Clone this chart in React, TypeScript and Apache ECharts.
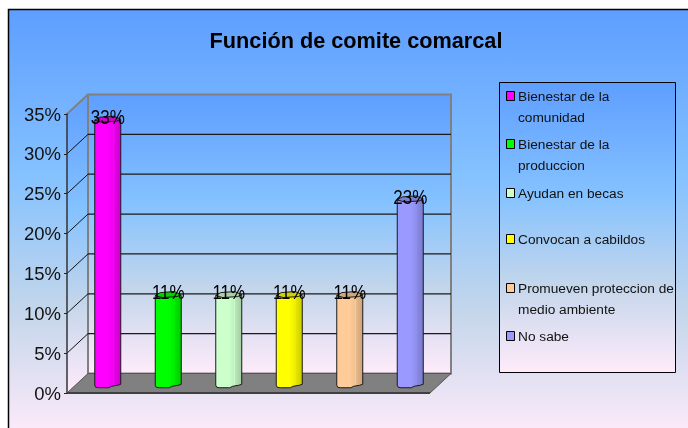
import React, { useEffect, useRef } from "react";
import * as echarts from "echarts";

const title = "Función de comite comarcal";
const categories = [
  "Bienestar de la comunidad",
  "Bienestar de la produccion",
  "Ayudan en becas",
  "Convocan a cabildos",
  "Promueven proteccion de medio ambiente",
  "No sabe",
];
const legendLines = [
  ["Bienestar de la", "comunidad"],
  ["Bienestar de la", "produccion"],
  ["Ayudan en becas"],
  ["Convocan a cabildos"],
  ["Promueven proteccion de", "medio ambiente"],
  ["No sabe"],
];
const values = [33, 11, 11, 11, 11, 23];
const colors = ["#ff00ff", "#00ff00", "#ccffcc", "#ffff00", "#ffcc99", "#9999ff"];
const darkColors = ["#cc00cc", "#00cc00", "#a3cca3", "#cccc00", "#cca37a", "#7a7acc"];
const yTicks = [0, 5, 10, 15, 20, 25, 30, 35];

const DX = 21;
const DY = -19.5;
const HALF = 13;

const sky = (x: number, y: number, x2: number, y2: number) =>
  new echarts.graphic.LinearGradient(x, y, x2, y2, [
    { offset: 0, color: "#5E9EFF" },
    { offset: 0.39, color: "#85C2FF" },
    { offset: 0.7, color: "#C4D6EB" },
    { offset: 1, color: "#FFEBFA" },
  ]);

function mix(a: string, b: string, t: number) {
  const p = (s: string, i: number) => parseInt(s.slice(i, i + 2), 16);
  const c = [1, 3, 5].map((i) => Math.round(p(a, i) * (1 - t) + p(b, i) * t));
  return `rgb(${c[0]},${c[1]},${c[2]})`;
}

const shade = (base: string, dark: string) =>
  new echarts.graphic.LinearGradient(0, 0, 1, 0, [
    { offset: 0, color: base },
    { offset: 0.5, color: base },
    { offset: 0.7, color: mix(base, dark, 0.3) },
    { offset: 0.72, color: mix(base, dark, 0.05) },
    { offset: 0.75, color: mix(base, dark, 0.5) },
    { offset: 1, color: dark },
  ]);

const EDGE = "#1a1a1a";

function renderWalls(_: any, api: any) {
  const band = api.size([1, 0])[0];
  const o = api.coord([0, 0]);
  const t = api.coord([0, 35]);
  const r = api.coord([5, 0]);
  const left = o[0] - band / 2;
  const right = r[0] + band / 2;
  return {
    type: "group",
    silent: true,
    children: [
      {
        type: "polygon",
        shape: { points: [[left, t[1]], [left + DX, t[1] + DY], [left + DX, o[1] + DY], [left, o[1]]] },
        style: { fill: sky(0, 0, 0, 1) },
      },
      {
        type: "rect",
        shape: { x: left + DX, y: t[1] + DY, width: right - left, height: o[1] - t[1] },
        style: { fill: sky(0, 0, 0, 1), stroke: "#808080", lineWidth: 2 },
      },
      {
        type: "polygon",
        shape: { points: [[left, o[1]], [left + DX, o[1] + DY], [right + DX, o[1] + DY], [right, o[1]]] },
        style: { fill: "#808080", stroke: "#555555", lineWidth: 1 },
      },
      {
        type: "line",
        shape: { x1: left, y1: o[1], x2: right, y2: o[1] },
        style: { stroke: "#404040", lineWidth: 2 },
      },
      {
        type: "line",
        shape: { x1: left, y1: t[1], x2: left + DX, y2: t[1] + DY },
        style: { stroke: "#808080", lineWidth: 2 },
      },
    ],
  };
}

function renderGrid(_: any, api: any) {
  const v = api.value(0);
  const band = api.size([1, 0])[0];
  const a = api.coord([0, v]);
  const b = api.coord([5, v]);
  const left = a[0] - band / 2;
  const right = b[0] + band / 2;
  const children: any[] = [];
  if (v > 0 && v < 35) {
    children.push({
      type: "line",
      shape: { x1: left, y1: a[1], x2: left + DX, y2: a[1] + DY },
      style: { stroke: "#111111", lineWidth: 1 },
    });
    children.push({
      type: "line",
      shape: { x1: left + DX, y1: a[1] + DY, x2: right + DX, y2: a[1] + DY },
      style: { stroke: "#1a1a1a", lineWidth: 1.2 },
    });
  }
  return { type: "group", silent: true, children };
}

function renderBar(params: any, api: any) {
  const i = api.value(0);
  const v = api.value(1);
  const idx = params.dataIndex;
  const top = api.coord([i, v]);
  const bottom = api.coord([i, 0]);
  const cx = top[0] + DX / 2;
  const ty = top[1] + DY / 2;
  const by = bottom[1] + DY / 2;
  const base = colors[idx];
  const dark = darkColors[idx];
  return {
    type: "group",
    children: [
      {
        type: "polygon",
        shape: {
          points: [
            [cx - HALF, ty],
            [cx + HALF, ty],
            [cx + HALF, by + 1],
            [cx + 10, by + 2],
            [cx + 4, by + 3],
            [cx + 1, by + 4.5],
            [cx - 9, by + 4.5],
            [cx - 12, by + 4],
            [cx - HALF, by + 2],
          ],
        },
        style: { fill: shade(base, dark), stroke: EDGE, lineWidth: 1 },
      },
      {
        type: "polygon",
        shape: {
          points: [
            [cx - HALF, ty],
            [cx - 8, ty - 3],
            [cx + 6, ty - 4],
            [cx + HALF, ty - 1],
            [cx + 9, ty + 1],
            [cx - 6, ty + 2],
          ],
        },
        style: { fill: mix(base, dark, 0.9), stroke: EDGE, lineWidth: 1 },
      },
      {
        type: "text",
        x: cx,
        y: ty - 3,
        scaleX: 0.87,
        style: {
          x: 0,
          y: 0,
          text: v + "%",
          fill: "#000000",
          font: '19.5px "Liberation Sans", Arial, sans-serif',
          align: "center",
          verticalAlign: "middle",
        },
      },
    ],
  };
}

const legendX = 499.5;
const legendY = 82.5;
const legendW = 176;
const legendH = 290;
const legendFirstRow = [96, 144, 193, 239, 288, 336];
const LINE = 21;

function legendGraphic() {
  const children: any[] = [
    {
      type: "rect",
      shape: { x: legendX, y: legendY, width: legendW, height: legendH },
      style: { fill: sky(0, 0, 0, 1), stroke: "#000000", lineWidth: 1 },
    },
  ];
  legendLines.forEach((lines, i) => {
    const y = legendFirstRow[i];
    children.push({
      type: "rect",
      shape: { x: 506.5, y: y - 4.5, width: 8, height: 9 },
      style: { fill: colors[i], stroke: "#000000", lineWidth: 1 },
    });
    lines.forEach((line, j) => {
      children.push({
        type: "text",
        style: {
          x: 518,
          y: y + j * LINE,
          text: line,
          fill: "#111111",
          font: '13.7px "Liberation Sans", Arial, sans-serif',
          verticalAlign: "middle",
        },
      });
    });
  });
  return { type: "group", silent: true, z: 20, children };
}

export default function App() {
  const ref = useRef<HTMLDivElement>(null);
  useEffect(() => {
    document.body.style.margin = "0";
    const chart = echarts.init(ref.current!, null, { renderer: "svg" });
    chart.setOption({
      animation: false,
      textStyle: { fontFamily: '"Liberation Sans", Arial, sans-serif' },
      title: {
        text: title,
        left: 351,
        top: 24,
        textAlign: "center",
        textStyle: { fontSize: 21.7, fontWeight: "bold", color: "#000000", fontFamily: '"Liberation Sans", Arial, sans-serif' },
      },
      graphic: [
        {
          type: "rect",
          z: -10,
          silent: true,
          shape: { x: 8.5, y: 9.5, width: 690, height: 430 },
          style: { fill: sky(0, 0, 0, 1), stroke: "#000000", lineWidth: 1.5 },
        },
        legendGraphic(),
      ],
      grid: { left: 67, right: 258, top: 114, bottom: 35, containLabel: false },
      xAxis: { type: "category", data: categories, show: false },
      yAxis: {
        type: "value",
        min: 0,
        max: 35,
        interval: 5,
        z: 10,
        axisLine: { show: true, lineStyle: { color: "#333333", width: 1.5 } },
        axisTick: { show: true, length: 3, lineStyle: { color: "#222222" } },
        splitLine: { show: false },
        axisLabel: {
          formatter: "{value}%",
          color: "#111111",
          fontSize: 18.5,
          margin: 6,
          fontFamily: '"Liberation Sans", Arial, sans-serif',
        },
      },
      series: [
        { type: "custom", name: "walls", z: 1, data: [[0]], renderItem: renderWalls, silent: true, tooltip: { show: false } },
        { type: "custom", name: "grid", z: 2, data: yTicks.map((v) => [v]), renderItem: renderGrid, silent: true, encode: { y: 0 } },
        {
          type: "custom",
          name: "Función",
          z: 3,
          data: values.map((v, i) => [i, v]),
          renderItem: renderBar,
          encode: { x: 0, y: 1 },
        },
      ],
    });
    return () => chart.dispose();
  }, []);
  return <div ref={ref} style={{ position: "fixed", left: 0, top: 0, width: 688, height: 428 }} />;
}
